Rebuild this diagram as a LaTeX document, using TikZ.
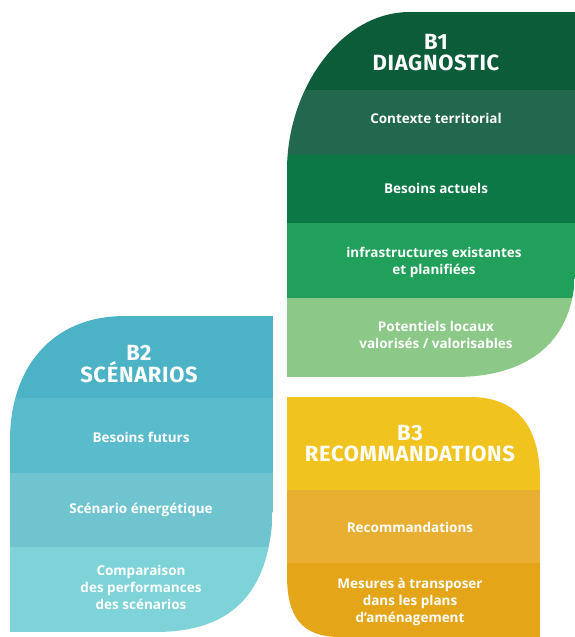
\documentclass[tikz,border=0pt]{standalone}
\usepackage{fontspec}
\setmainfont{Open Sans}
\newfontfamily\headfont[LetterSpace=3]{Fira Sans}
\usetikzlibrary{positioning}

\definecolor{diagHead}{RGB}{12,92,57}
\definecolor{diagA}{RGB}{34,104,79}
\definecolor{diagB}{RGB}{12,120,70}
\definecolor{diagC}{RGB}{32,160,90}
\definecolor{diagD}{RGB}{140,200,136}
\definecolor{scenHead}{RGB}{76,178,198}
\definecolor{scenA}{RGB}{90,187,204}
\definecolor{scenB}{RGB}{112,196,208}
\definecolor{scenC}{RGB}{126,211,216}
\definecolor{recoHead}{RGB}{240,195,30}
\definecolor{recoA}{RGB}{232,175,50}
\definecolor{recoB}{RGB}{228,165,25}

\begin{document}
\begin{tikzpicture}[x=1pt, y=-1pt,
                    band node/.style={text=white,align=center,font=\bfseries\fontsize{13.5}{17}\selectfont},
                    head node/.style={text=white,align=center,font=\headfont\bfseries\fontsize{22}{21}\selectfont}]

  \useasboundingbox[fill=white] (0,0) rectangle (575,637);

  % B1 leaf
  \begin{scope}
    \clip (287,170) .. controls (287,90) and (340,12) .. (410,12) -- (575,12)
          -- (575,270) .. controls (575,340) and (530,377) .. (455,377) -- (287,377) -- cycle;
    \fill[diagHead] (287,12) rectangle (575,90);
    \fill[diagA] (287,90) rectangle (575,155);
    \fill[diagB] (287,155) rectangle (575,223);
    \fill[diagC] (287,223) rectangle (575,298);
    \fill[diagD] (287,298) rectangle (575,377);
  \end{scope}

  % B2 leaf
  \begin{scope}
    \clip (10,440) .. controls (10,370) and (50,316) .. (125,316) -- (273,316)
          -- (273,500) .. controls (273,590) and (235,632) .. (155,632) -- (10,632) -- cycle;
    \fill[scenHead] (10,316) rectangle (273,398);
    \fill[scenA] (10,398) rectangle (273,473);
    \fill[scenB] (10,473) rectangle (273,547);
    \fill[scenC] (10,547) rectangle (273,632);
  \end{scope}

  % B3 leaf
  \begin{scope}
    \clip (287,397) -- (470,397) .. controls (520,397) and (540,430) .. (540,480)
          -- (540,637) -- (340,637) .. controls (300,637) and (287,615) .. (287,575) -- cycle;
    \fill[recoHead] (287,397) rectangle (540,490);
    \fill[recoA] (287,490) rectangle (540,563);
    \fill[recoB] (287,563) rectangle (540,637);
  \end{scope}

  \node[head node] (b1) at (436,53) {B1\\DIAGNOSTIC};
  \node[band node] (contexte) at (436,118) {Contexte territorial};
  \node[band node] (actuels) at (436,188) {Besoins actuels};
  \node[band node] (infra) at (434,262) {infrastructures existantes\\et planifiées};
  \node[band node] (potentiels) at (436,335) {Potentiels locaux\\valorisés / valorisables};

  \node[head node] (b2) at (139,364) {B2\\SCÉNARIOS};
  \node[band node] (futurs) at (141,437) {Besoins futurs};
  \node[band node] (energie) at (141,510) {Scénario énergétique};
  \node[band node] (comparaison) at (141,587) {Comparaison\\des performances\\des scénarios};

  \node[head node] (b3) at (410,444) {B3\\RECOMMANDATIONS};
  \node[band node] (recos) at (410,527) {Recommandations};
  \node[band node] (mesures) at (410,602) {Mesures à transposer\\dans les plans\\d’aménagement};

\end{tikzpicture}
\end{document}
